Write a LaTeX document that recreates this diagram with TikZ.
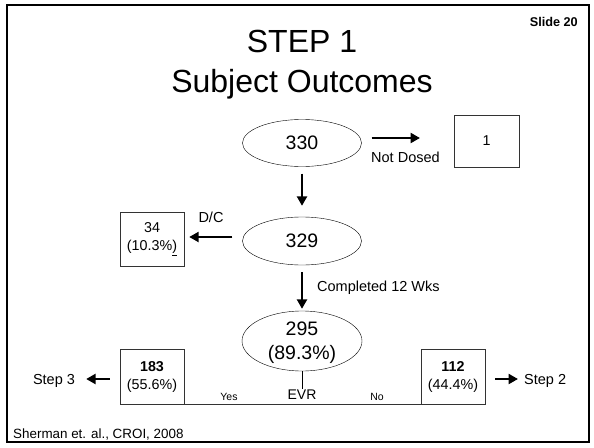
\documentclass[tikz,border=0pt]{standalone}
\usepackage{fontspec}
\setmainfont{Liberation Sans}
\usetikzlibrary{shapes.geometric,arrows.meta}

\tikzstyle{count} = [ellipse, draw, minimum width=119pt, minimum height=47pt, inner sep=0pt, font=\fontsize{19.5}{24}\selectfont, align=center]
\tikzstyle{block} = [rectangle, draw=black!80, minimum width=64pt, minimum height=54pt, inner sep=0pt, font=\fontsize{14.3}{18}\selectfont, align=center]
\tikzstyle{label} = [inner sep=0pt, font=\fontsize{14.5}{17}\selectfont]
\tikzstyle{arr} = [line width=2.4pt, -{Triangle[length=9.5pt,width=10pt]}]

\begin{document}
\begin{tikzpicture}[x=1pt, y=-1pt]
        \tikzset{every node/.style={text=black}}
        \useasboundingbox (0,0) rectangle (594,447);
        % slide frame
        \draw[line width=2.5pt] (7,5) rectangle (589,442);
        % title
        \node (title1) at (302,52) [anchor=base, inner sep=0pt, font=\fontsize{32}{40}\selectfont] {STEP 1};
        \node (title2) at (302,92) [anchor=base, inner sep=0pt, font=\fontsize{32}{40}\selectfont] {Subject Outcomes};
        \node (slide) at (578,27) [anchor=base east, inner sep=0pt, font=\fontsize{12.7}{15}\selectfont\bfseries] {Slide 20};
        % counts
        \node (e330) at (302,143) [count] {330};
        \node (e329) at (302,241) [count, minimum height=48pt] {329};
        \node (e295) at (302,341) [count, minimum width=120pt, minimum height=60pt, text depth=-2pt] {295\\(89.3\%)};
        % outcome boxes
        \node (b1) at (486.5,141) [block, minimum width=65pt, minimum height=52pt] {1};
        \node (b34) at (152,239) [block] {34\\(10.3\%\underline{)}};
        \node (b183) at (152,376.5) [block, minimum height=55pt] {\textbf{183}\\(55.6\%)};
        \node (b112) at (453,376.5) [block, minimum height=55pt] {\textbf{112}\\(44.4\%)};
        % labels
        \node (nd) at (371,162) [label, anchor=base west] {Not Dosed};
        \node (dc) at (211,222) [label, anchor=base] {D/C};
        \node (wks) at (317,291) [label, anchor=base west] {Completed 12 Wks};
        \node (evr) at (302,399) [label, anchor=base, font=\fontsize{14}{17}\selectfont] {EVR};
        \node (yes) at (229,400) [label, anchor=base, font=\fontsize{10.5}{12}\selectfont] {Yes};
        \node (no) at (377,400) [label, anchor=base, font=\fontsize{10.5}{12}\selectfont] {No};
        \node (step3) at (54,384) [label, anchor=base] {Step 3};
        \node (step2) at (524,384) [label, anchor=base west] {Step 2};
        \node (ref) at (13,438) [anchor=base west, inner sep=0pt, font=\fontsize{13.4}{16}\selectfont] {Sherman et. al., CROI, 2008};
        \coordinate (ndend) at (420,138);
        % connectors
        \draw[arr, shorten <=7pt, shorten >=11pt] (e330) -- (e329);
        \draw[arr, shorten <=7pt, shorten >=2pt] (e329) -- (e295);
        \draw[arr, shorten <=10pt] (e330.east |- ndend) -- (ndend);
        \draw[arr, shorten <=10pt, shorten >=5pt] (e329.west |- 0,237) -- (b34.east |- 0,237);
        \draw[arr, shorten <=10pt, shorten >=11pt] (b183.west |- 0,379) -- (step3.east |- 0,379);
        \draw[arr, shorten <=10pt, shorten >=6pt] (b112.east |- 0,379) -- (step2.west |- 0,379);
        \draw (e295.south) -- (evr.north);
        \draw[black!80] (b183.south east) -- (b112.south west);
    \end{tikzpicture}
\end{document}
